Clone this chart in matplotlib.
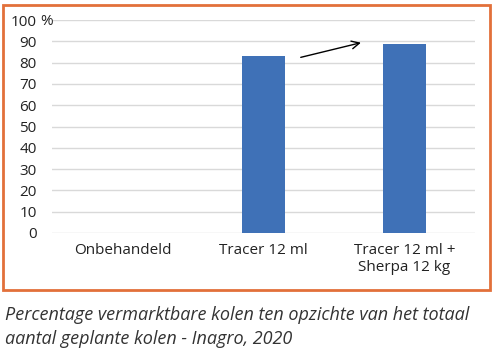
import matplotlib
matplotlib.use("Agg")
import matplotlib.pyplot as plt
from matplotlib.patches import Rectangle

# data
categories = ["Onbehandeld", "Tracer 12 ml", "Tracer 12 ml +\nSherpa 12 kg"]
values = [0, 83, 89]
yticks = [0, 10, 20, 30, 40, 50, 60, 70, 80, 90, 100]
ytick_labels = ["0", "10", "20", "30", "40", "50", "60", "70", "80", "90", "100"]
caption = ("Percentage vermarktbare kolen ten opzichte van het totaal\n"
           "aantal geplante kolen - Inagro, 2020")

plt.rcParams['font.family'] = ['Open Sans', 'DejaVu Sans']

fig = plt.figure(figsize=(5, 3.53), dpi=100)
ax = fig.add_axes([0.104, 0.34, 0.846, 0.603])

x = range(len(categories))
ax.bar(x, values, width=0.31, color="#3F71B7", zorder=3)

ax.set_xlim(-0.5, 2.5)
ax.set_ylim(0, 100)
ax.set_yticks(yticks)
ax.set_yticklabels(ytick_labels, fontsize=11, color="#222222")
ax.set_xticks(list(x))
ax.set_xticklabels(categories, fontsize=11, color="#222222")
ax.tick_params(axis="both", length=0)
ax.tick_params(axis="y", pad=11)
ax.tick_params(axis="x", pad=7)
ax.grid(axis="y", color="#D9D9D9", linewidth=1, zorder=0)
for s in ax.spines.values():
    s.set_visible(False)

# percent sign after the top tick
fig.text(0.08, 0.94, "%", fontsize=11, color="#222222", va="center", ha="left")

# arrow between the two treated bars
ax.annotate("", xy=(1.71, 89.7), xytext=(1.245, 82.2),
            arrowprops=dict(arrowstyle="->", color="black", lw=1,
                            mutation_scale=14))

# orange frame round the chart
fig.patches.append(Rectangle((0.006, 0.178), 0.974, 0.807, transform=fig.transFigure,
                             fill=False, edgecolor="#E2703A", linewidth=2))

fig.text(0.01, 0.074, caption, fontsize=13, style="italic", color="#333333",
         linespacing=1.4, va="center", ha="left")

fig.savefig("out.png", dpi=100)
